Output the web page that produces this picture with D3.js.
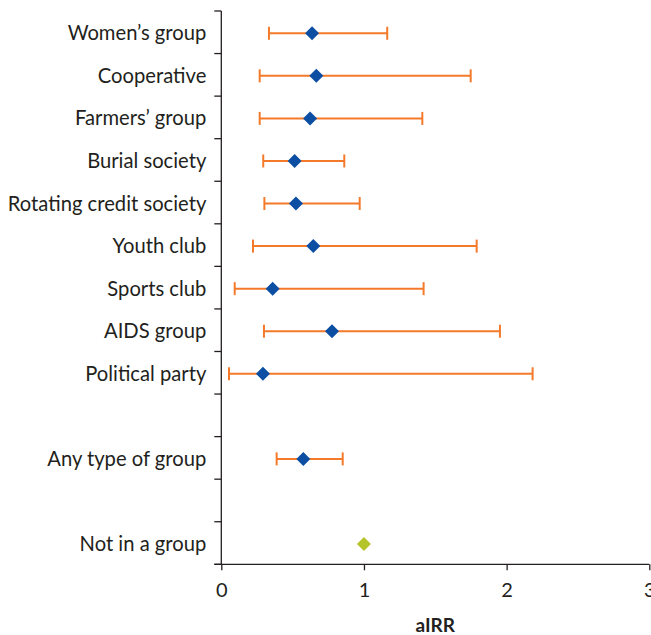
<!DOCTYPE html>
<html><head><meta charset="utf-8">
<script src="https://cdn.jsdelivr.net/npm/d3@7"></script>
<style>body{margin:0;background:#fff}svg{display:block}</style>
</head><body>
<script>
const categories = ["Women\u2019s group","Cooperative","Farmers\u2019 group","Burial society","Rotating credit society","Youth club","Sports club","AIDS group","Political party","gap1","Any type of group","gap2","Not in a group"];
const estimates = [0.636,0.666,0.622,0.514,0.523,0.645,0.360,0.776,0.292,null,0.575,null,1.0];
const lowerCI  = [0.334,0.269,0.269,0.294,0.302,0.222,0.094,0.299,0.054,null,0.388,null,null];
const upperCI  = [1.163,1.748,1.409,0.862,0.970,1.790,1.418,1.953,2.182,null,0.851,null,null];
const xTicks = [0,1,2,3];
const xTitle = "aIRR";

const W=651,H=635;
const m={left:221.3,right:1.7,top:11,bottom:70.7};
const svg=d3.select("body").append("svg").attr("width",W).attr("height",H);
const x=d3.scaleLinear().domain([0,3]).range([m.left,W-m.right]);
const y=d3.scaleBand().domain(categories).range([m.top,H-m.bottom]);
const axisColor="#231f20";
const font="Lato, 'Open Sans', sans-serif";

const g=svg.append("g");
g.append("line").attr("x1",x(0)).attr("x2",x(0)).attr("y1",y.range()[0]).attr("y2",y.range()[1]).attr("stroke",axisColor).attr("stroke-width",1.3);
const bounds=categories.map(c=>y(c)).concat([y.range()[1]]);
g.selectAll(".yt").data(bounds).join("line").attr("x1",x(0)-7).attr("x2",x(0)).attr("y1",d=>d).attr("y2",d=>d).attr("stroke",axisColor).attr("stroke-width",1.3);
g.selectAll(".yl").data(categories.filter(c=>!c.startsWith("gap"))).join("text")
 .attr("x",x(0)-15).attr("y",d=>y(d)+y.bandwidth()/2+1).attr("dy","0.35em")
 .attr("text-anchor","end").attr("font-family",font).attr("font-size",20.2).attr("fill","#231f20").text(d=>d);

const xa=svg.append("g").attr("transform",`translate(0,${y.range()[1]})`)
 .call(d3.axisBottom(x).tickValues(xTicks).tickSize(6).tickPadding(13).tickFormat(d3.format("d")));
xa.select(".domain").attr("stroke",axisColor).attr("stroke-width",1.3).attr("d",`M${x(0)-7},0H${W-m.right}`);
xa.selectAll(".tick line").attr("stroke",axisColor).attr("stroke-width",1.3);
xa.selectAll(".tick text").attr("font-family",font).attr("font-size",20).attr("fill","#231f20");
svg.append("text").attr("x",(x(0)+x(3))/2).attr("y",632).attr("text-anchor","middle")
 .attr("font-family",font).attr("font-size",19).attr("font-weight","bold").attr("fill","#231f20").text(xTitle);

const rows=categories.map((c,i)=>({c,est:estimates[i],lo:lowerCI[i],hi:upperCI[i]}));
const eb=rows.filter(d=>d.lo!=null);
const orange="#f47a2a";
const cyOf=d=>y(d.c)+y.bandwidth()/2+1;
svg.selectAll(".eb").data(eb).join("line").attr("x1",d=>x(d.lo)).attr("x2",d=>x(d.hi))
 .attr("y1",cyOf).attr("y2",cyOf).attr("stroke",orange).attr("stroke-width",2);
["lo","hi"].forEach(k=>{
 svg.selectAll(".cap"+k).data(eb).join("line").attr("x1",d=>x(d[k])).attr("x2",d=>x(d[k]))
  .attr("y1",d=>cyOf(d)-6.5).attr("y2",d=>cyOf(d)+6.5).attr("stroke",orange).attr("stroke-width",2);
});
const pts=rows.filter(d=>d.est!=null);
svg.selectAll(".pt").data(pts).join("path")
 .attr("d",d=>{const cx=x(d.est),cy=cyOf(d),r=7;return `M${cx},${cy-r}L${cx+r},${cy}L${cx},${cy+r}L${cx-r},${cy}Z`;})
 .attr("fill",d=>d.lo==null?"#b5c42b":"#0b4ea2");
</script>
</body></html>
